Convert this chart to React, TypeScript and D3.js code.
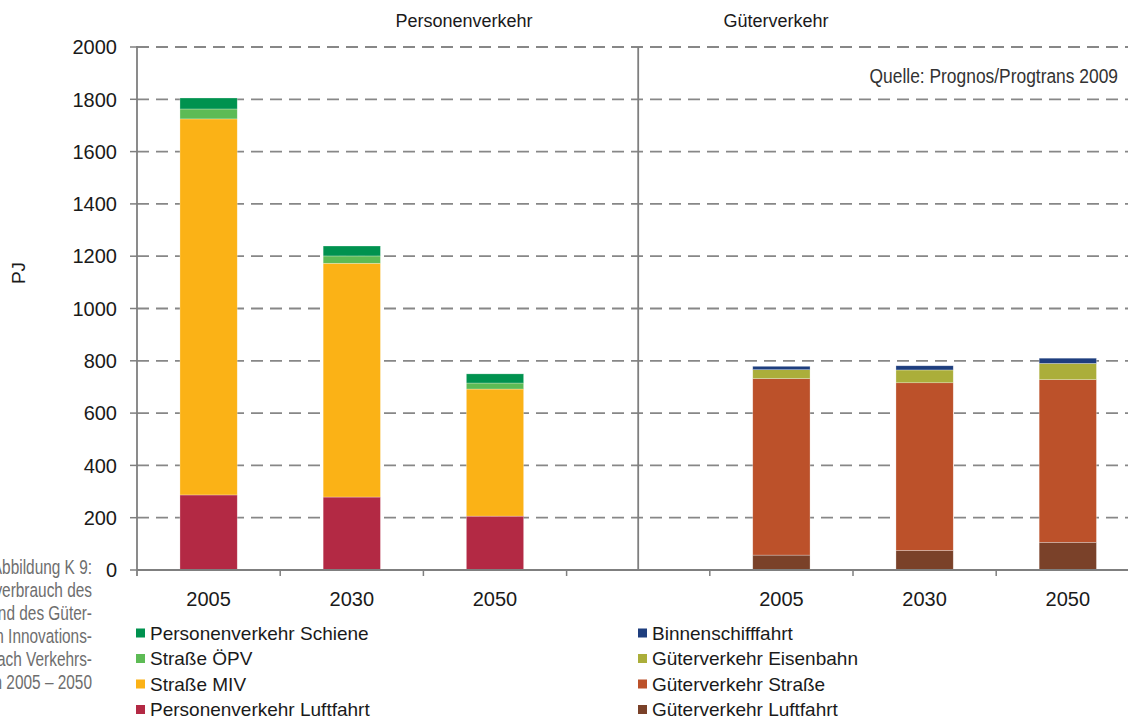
import React from "react";
import * as d3 from "d3";

// ---- data ----
const slotLabels = ["2005", "2030", "2050", "", "2005", "2030", "2050"];
const passengerSlots = [0, 1, 2];
const freightSlots = [4, 5, 6];

const personenLuftfahrt = [287, 279, 206];
const strasseMIV = [1438, 894, 486];
const strasseOEPV = [38, 28, 23];
const personenSchiene = [42, 38, 35];

const gueterLuftfahrt = [57, 75, 106];
const gueterStrasse = [675, 641, 622];
const gueterEisenbahn = [34, 49, 62];
const binnenschifffahrt = [13, 16, 20];

const yTicks = [0, 200, 400, 600, 800, 1000, 1200, 1400, 1600, 1800, 2000];

const passengerKeys = ["Personenverkehr Luftfahrt", "Straße MIV", "Straße ÖPV", "Personenverkehr Schiene"];
const freightKeys = ["Güterverkehr Luftfahrt", "Güterverkehr Straße", "Güterverkehr Eisenbahn", "Binnenschifffahrt"];

const colors: Record<string, string> = {
  "Personenverkehr Schiene": "#00924F",
  "Straße ÖPV": "#5DBB55",
  "Straße MIV": "#FBB216",
  "Personenverkehr Luftfahrt": "#B32944",
  "Binnenschifffahrt": "#1E3E7E",
  "Güterverkehr Eisenbahn": "#ABAE3A",
  "Güterverkehr Straße": "#BC512A",
  "Güterverkehr Luftfahrt": "#7A4129",
};

const legendLeft = ["Personenverkehr Schiene", "Straße ÖPV", "Straße MIV", "Personenverkehr Luftfahrt"];
const legendRight = ["Binnenschifffahrt", "Güterverkehr Eisenbahn", "Güterverkehr Straße", "Güterverkehr Luftfahrt"];

const captionLines = [
  "Abbildung K 9:",
  "Endenergieverbrauch des",
  "Personen- und des Güter-",
  "verkehrs im Innovations-",
  "szenario nach Verkehrs-",
  "trägern 2005 – 2050",
];

const W = 1128;
const H = 720;

export default function App() {
  const x0 = 137;
  const slotStep = 143.2;
  const x = d3
    .scaleBand<number>()
    .domain(slotLabels.map((_, i) => i))
    .range([x0, x0 + slotStep * slotLabels.length])
    .padding(0);
  const y = d3.scaleLinear().domain([0, 2000]).range([570, 47]);
  const barW = x.bandwidth() * 0.4;

  const pRows = passengerSlots.map((s, i) => ({
    slot: s,
    "Personenverkehr Luftfahrt": personenLuftfahrt[i],
    "Straße MIV": strasseMIV[i],
    "Straße ÖPV": strasseOEPV[i],
    "Personenverkehr Schiene": personenSchiene[i],
  }));
  const fRows = freightSlots.map((s, i) => ({
    slot: s,
    "Güterverkehr Luftfahrt": gueterLuftfahrt[i],
    "Güterverkehr Straße": gueterStrasse[i],
    "Güterverkehr Eisenbahn": gueterEisenbahn[i],
    "Binnenschifffahrt": binnenschifffahrt[i],
  }));
  const pStack = d3.stack<any>().keys(passengerKeys)(pRows);
  const fStack = d3.stack<any>().keys(freightKeys)(fRows);

  const font = "'Liberation Sans', Arial, Helvetica, sans-serif";
  const gridColor = "#878787";
  const axisColor = "#7f7f7f";
  const sepX = (x(3) as number) + x.bandwidth() / 2;

  const renderStack = (series: any[]) =>
    series.map((s) => (
      <g key={s.key} fill={colors[s.key]}>
        {s.map((d: any, j: number) => {
          const cx = (x(d.data.slot) as number) + x.bandwidth() / 2;
          return (
            <rect
              key={j}
              x={cx - barW / 2}
              y={y(d[1])}
              width={barW}
              height={y(d[0]) - y(d[1])}
              stroke="rgba(255,255,255,0.45)"
              strokeWidth={0.6}
            />
          );
        })}
      </g>
    ));

  return (
    <svg
      width={W}
      height={H}
      style={{ position: "absolute", left: 0, top: 0, background: "#fff" }}
      fontFamily={font}
    >
      <rect width={W} height={H} fill="#fff" />
      {/* gridlines */}
      {yTicks.slice(1).map((t) => (
        <line
          key={t}
          x1={x0}
          x2={W}
          y1={y(t)}
          y2={y(t)}
          stroke={gridColor}
          strokeWidth={1.8}
          strokeDasharray="12 7"
        />
      ))}
      {/* separator */}
      <line x1={sepX} x2={sepX} y1={y(2000)} y2={y(0)} stroke={axisColor} strokeWidth={1.8} />

      {renderStack(pStack)}
      {renderStack(fStack)}

      {/* y axis */}
      <line x1={x0} x2={x0} y1={y(2000) - 1} y2={y(0) + 6} stroke={axisColor} strokeWidth={1.8} />
      {yTicks.map((t) => (
        <g key={t}>
          <line x1={x0 - 7} x2={x0} y1={y(t)} y2={y(t)} stroke={axisColor} strokeWidth={1.5} />
          <text x={117} y={y(t)} dy="0.36em" textAnchor="end" fontSize={20} fill="#1a1a1a">
            {t}
          </text>
        </g>
      ))}
      {/* x axis */}
      <line x1={x0} x2={W} y1={y(0)} y2={y(0)} stroke={axisColor} strokeWidth={1.8} />
      {slotLabels.map((_, i) =>
        i === 0 ? null : (
          <line
            key={i}
            x1={x(i) as number}
            x2={x(i) as number}
            y1={y(0)}
            y2={y(0) + 6}
            stroke={axisColor}
            strokeWidth={1.5}
          />
        )
      )}
      {slotLabels.map((l, i) => (
        <text
          key={i}
          x={(x(i) as number) + x.bandwidth() / 2}
          y={606}
          textAnchor="middle"
          fontSize={20}
          fill="#1a1a1a"
        >
          {l}
        </text>
      ))}

      {/* y label */}
      <text transform="translate(25,273) rotate(-90)" textAnchor="middle" fontSize={19} fill="#1a1a1a">
        PJ
      </text>

      {/* headers */}
      <text x={464} y={27} textAnchor="middle" fontSize={18} fill="#1a1a1a">
        Personenverkehr
      </text>
      <text x={776} y={27} textAnchor="middle" fontSize={18} fill="#1a1a1a">
        Güterverkehr
      </text>

      {/* source */}
      <text
        transform="translate(1118,83) scale(0.87,1)"
        textAnchor="end"
        fontSize={20}
        fill="#333"
      >
        Quelle: Prognos/Progtrans 2009
      </text>

      {/* caption (cropped on the left, as in the source layout) */}
      {captionLines.map((l, i) => (
        <text
          key={i}
          transform={`translate(92,${574 + i * 23}) scale(0.79,1)`}
          textAnchor="end"
          fontSize={19.5}
          fill="#6e6e6e"
        >
          {l}
        </text>
      ))}

      {/* legend */}
      {legendLeft.map((k, i) => (
        <g key={k} transform={`translate(136,${633 + i * 25.5})`}>
          <rect x={0} y={-4.5} width={9} height={9} fill={colors[k]} />
          <text x={14} y={0} dy="0.36em" fontSize={19} fill="#1a1a1a">
            {k}
          </text>
        </g>
      ))}
      {legendRight.map((k, i) => (
        <g key={k} transform={`translate(638,${633 + i * 25.5})`}>
          <rect x={0} y={-4.5} width={9} height={9} fill={colors[k]} />
          <text x={14} y={0} dy="0.36em" fontSize={19} fill="#1a1a1a">
            {k}
          </text>
        </g>
      ))}
    </svg>
  );
}
